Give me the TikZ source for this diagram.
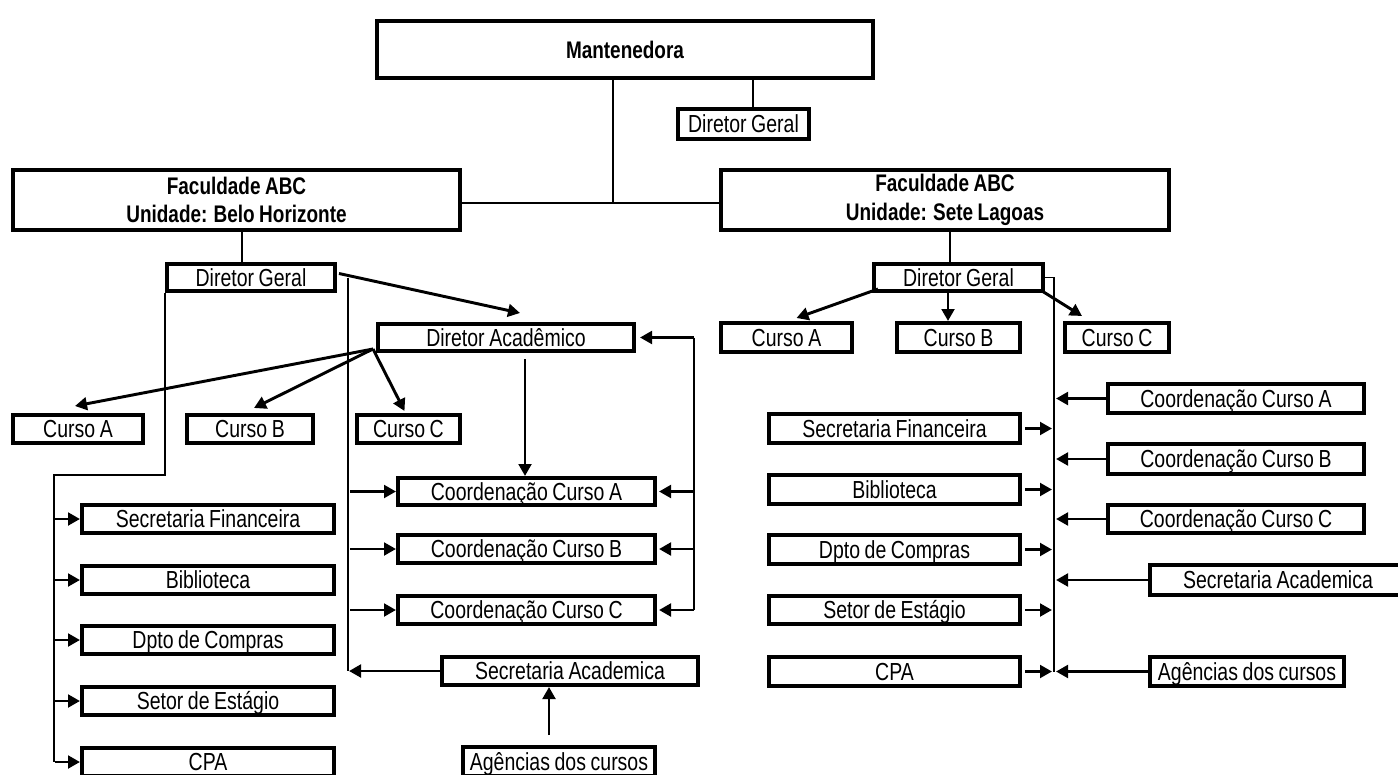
\documentclass[tikz,border=0pt]{standalone}
\usepackage{fontspec}
\setmainfont{Liberation Sans}[FakeStretch=0.79,WordSpace=0.85]
\usetikzlibrary{arrows.meta,calc}
\tikzset{
  boxbase/.style={draw,line width=3pt,inner sep=0pt,fill=white,font=\fontsize{18.5}{22}\selectfont},
  boxst/.style={boxbase,text height=13.2pt,text depth=0.3pt},
  facst/.style={boxbase,align=center,font=\bfseries\fontsize{18}{21.5}\selectfont},
  thinl/.style={line width=0.9pt},
  arr/.style={line width=2.2pt,-{Triangle[length=9pt,width=9.5pt]}},
}
\newcommand\mybox[7][boxst]{%
  \pgfmathsetmacro\bw{(#4-#2-4)*0.75}%
  \pgfmathsetmacro\bh{(#5-#3-4)*0.75}%
  \node[#1,minimum width=\bw pt,minimum height=\bh pt] (#6) at ({(#2+#4)/2},{(#3+#5)/2}) {#7};}
\begin{document}
\begin{tikzpicture}[x=0.75pt,y=-0.75pt]
\useasboundingbox (0,0) rectangle (1398,774);
% top
\mybox[boxst,font=\bfseries\fontsize{18}{21.5}\selectfont]{375}{19}{875}{80}{mant}{Mantenedora}
\mybox{676}{107}{811}{141}{dgtop}{Diretor Geral}
\mybox[facst]{11}{168}{462}{232}{bh}{Faculdade ABC\\Unidade: Belo Horizonte}
\mybox[facst]{719}{168}{1171}{232}{sl}{Faculdade ABC\\Unidade: Sete Lagoas}
% BH
\mybox{165}{262}{337}{293}{dgbh}{Diretor Geral}
\mybox{376}{322}{636}{353}{da}{Diretor Acadêmico}
\mybox{11}{413}{145}{445}{caB}{Curso A}
\mybox{185}{413}{315}{445}{cbB}{Curso B}
\mybox{355}{413}{462}{445}{ccB}{Curso C}
\mybox{396}{476}{657}{507}{coAB}{Coordenação Curso A}
\mybox{396}{533}{657}{565}{coBB}{Coordenação Curso B}
\mybox{396}{594}{657}{626}{coCB}{Coordenação Curso C}
\mybox{440}{655}{700}{687}{saB}{Secretaria Academica}
\mybox{461}{745}{657}{778}{agB}{Agências dos cursos}
\mybox{80}{503}{336}{535}{sfB}{Secretaria Financeira}
\mybox{80}{564}{336}{596}{biB}{Biblioteca}
\mybox{80}{624}{336}{656}{dpB}{Dpto de Compras}
\mybox{80}{685}{336}{717}{seB}{Setor de Estágio}
\mybox{80}{746}{336}{778}{cpB}{CPA}
% SL
\mybox{872}{262}{1045}{293}{dgsl}{Diretor Geral}
\mybox{719}{321}{854}{354}{caS}{Curso A}
\mybox{895}{321}{1022}{354}{cbS}{Curso B}
\mybox{1063}{321}{1171}{354}{ccS}{Curso C}
\mybox{767}{412}{1022}{445}{sfS}{Secretaria Financeira}
\mybox{767}{473}{1022}{506}{biS}{Biblioteca}
\mybox{767}{533}{1022}{566}{dpS}{Dpto de Compras}
\mybox{767}{594}{1022}{626}{seS}{Setor de Estágio}
\mybox{767}{655}{1022}{688}{cpS}{CPA}
\mybox{1106}{382}{1366}{415}{coAS}{Coordenação Curso A}
\mybox{1106}{442}{1366}{476}{coBS}{Coordenação Curso B}
\mybox{1106}{503}{1366}{535}{coCS}{Coordenação Curso C}
\mybox{1148}{563}{1408}{597}{saS}{Secretaria Academica}
\mybox{1148}{655}{1346}{688}{agS}{Agências dos cursos}

% top connectors
\coordinate (j) at (613,203);
\draw[thinl] (j |- mant.south) -- (j);
\draw[thinl] (bh.east |- j) -- (sl.west |- j);
\draw[thinl] (753,0 |- mant.south) -- (753,0 |- dgtop.north);
\draw[thinl] (242,0 |- bh.south) -- (242,0 |- dgbh.north);
\draw[thinl] (950,0 |- sl.south) -- (950,0 |- dgsl.north);

% BH connectors
\draw[arr] ($(dgbh.east)+(2,-4)$) -- ($(da.north)+(14,-9)$);
\draw[thinl] ($(dgbh.east)+(11,0)$) -- (348,0 |- saB.west);
\draw[arr] (saB.west) -- (349,0 |- saB.west);
\draw[arr] (350,0 |- coAB.west) -- (coAB.west);
\draw[arr] (350,0 |- coBB.west) -- (coBB.west);
\draw[arr] (350,0 |- coCB.west) -- (coCB.west);
\draw[arr] ($(da.south west)+(-3,-4)$) -- ($(caB.north)+(-3,-7)$);
\draw[arr] ($(da.south west)+(-3,-4)$) -- ($(cbB.north)+(4,-5)$);
\draw[arr] ($(da.south west)+(-3,-4)$) -- ($(ccB.north)+(-4,-2)$);
\draw[arr] ($(525,0 |- da.south)+(0,6)$) -- (525,0 |- coAB.north);
\draw[thinl] (694,0 |- da.east) -- (694,0 |- coCB.east);
\draw[arr] (694,0 |- da.east) -- ($(da.east)+(4,0)$);
\draw[arr] (694,0 |- coAB.east) -- ($(coAB.east)+(2,0)$);
\draw[arr] (694,0 |- coBB.east) -- ($(coBB.east)+(2,0)$);
\draw[arr] (694,0 |- coCB.east) -- ($(coCB.east)+(2,0)$);
\draw[arr] ($(549,0 |- agB.north)+(0,-10)$) -- (549,0 |- saB.south);
\draw[thinl] (dgbh.south west) -- (165,475) -- (54,475) -- (54,0 |- cpB.west);
\foreach \n in {sfB,biB,dpB,seB,cpB} \draw[arr] (55,0 |- \n.west) -- (\n.west);

% SL connectors
\draw[arr] ($(dgsl.south west)+(6,-4)$) -- ($(caS.north)+(10,-3)$);
\draw[arr] (948,0 |- dgsl.south) -- (948,0 |- cbS.north);
\draw[arr] ($(dgsl.south east)+(-3,-2)$) -- ($(ccS.north)+(-35,-5)$);
\draw[thinl] (dgsl.east) -- (1054,0 |- dgsl.east) -- (1054,0 |- agS.west);
\foreach \n in {sfS,biS,dpS,seS,cpS} \draw[arr] ($(\n.east)+(3,0)$) -- (1052,0 |- \n.east);
\foreach \n in {coAS,coBS,coCS,saS,agS} \draw[arr] (\n.west) -- (1056,0 |- \n.west);
\end{tikzpicture}
\end{document}
